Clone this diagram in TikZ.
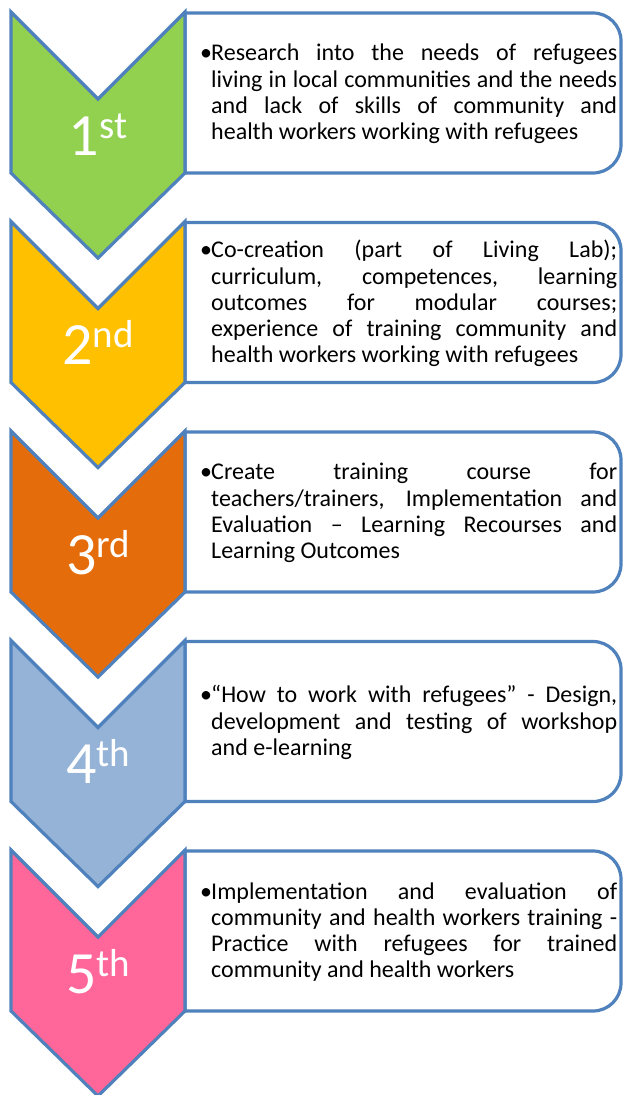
\documentclass[tikz,border=0pt]{standalone}
\usepackage{fontspec}
\setmainfont{Carlito}
\usepackage{tikz}

\definecolor{edgeblue}{HTML}{4F81BD}
\definecolor{stepgreen}{HTML}{92D050}
\definecolor{stepyellow}{HTML}{FFC000}
\definecolor{steporange}{HTML}{E46C0A}
\definecolor{stepblue}{HTML}{95B3D7}
\definecolor{steppink}{HTML}{FF6699}

\tolerance=10000
\hbadness=10000
\hfuzz=5pt
\hyphenpenalty=10000
\exhyphenpenalty=10000

\newcommand\bul{\noindent\llap{\makebox[11pt][l]{\textbullet}}}

\begin{document}
\begin{tikzpicture}[x=1pt, y=-1pt,
  frame/.style={draw=edgeblue, line width=3.2pt},
  steplabel/.style={anchor=base, text=white, inner sep=0pt},
  boxtext/.style={anchor=west, text width=406pt, align=justify, inner sep=0pt,
    font=\fontsize{24}{26.2}\selectfont}]

% CANVAS
  \useasboundingbox (0,0) rectangle (624,1095);

% TEXT BOXES (drawn first, the chevrons lie on their left side)
  \def\rad{28}
  \foreach \t in {12, 221.5, 431, 640.5, 850}
      \draw[frame, fill=white] (185,\t+1) -- (621-\rad,\t+1)
        arc[start angle=-90, end angle=0, radius=\rad] -- (621,\t+161-\rad)
        arc[start angle=0, end angle=90, radius=\rad] -- (185,\t+161) -- cycle;

% CHEVRONS
  \foreach \t/\col/\num/\ord in {12/stepgreen/1/st, 221.5/stepyellow/2/nd,
      431/steporange/3/rd, 640.5/stepblue/4/th, 850/steppink/5/th}{
      \draw[frame, fill=\col] (11,\t) -- (98,\t+87) -- (185,\t) -- (185,\t+161)
        -- (98,\t+246) -- (11,\t+161) -- cycle;
      \node[steplabel] (n\num) at (98,\t+143)
        {\fontsize{60}{60}\selectfont\num\raisebox{17pt}{\fontsize{39}{39}\selectfont\ord}};
  }

% STEP TEXTS
  \node[boxtext] (b1) at (211, 94) {\bul Research into the needs of refugees\linebreak
    living in local communities and the needs\linebreak
    and lack of skills of community and\linebreak
    health workers working with refugees};

  \node[boxtext] (b2) at (211, 303.5) {\bul Co-creation (part of Living Lab);\linebreak
    curriculum, competences, learning\linebreak
    outcomes for modular courses;\linebreak
    experience of training community and\linebreak
    health workers working with refugees};

  \node[boxtext] (b3) at (211, 513) {\bul Create training course for\linebreak
    teachers/trainers, Implementation and\linebreak
    Evaluation – Learning Recourses and\linebreak
    Learning Outcomes};

  \node[boxtext] (b4) at (211, 722.5) {\bul “How to work with refugees” - Design,\linebreak
    development and testing of workshop\linebreak
    and e-learning};

  \node[boxtext] (b5) at (211, 932) {\bul Implementation and evaluation of\linebreak
    community and health workers training -\linebreak
    Practice with refugees for trained\linebreak
    community and health workers};

\end{tikzpicture}
\end{document}
